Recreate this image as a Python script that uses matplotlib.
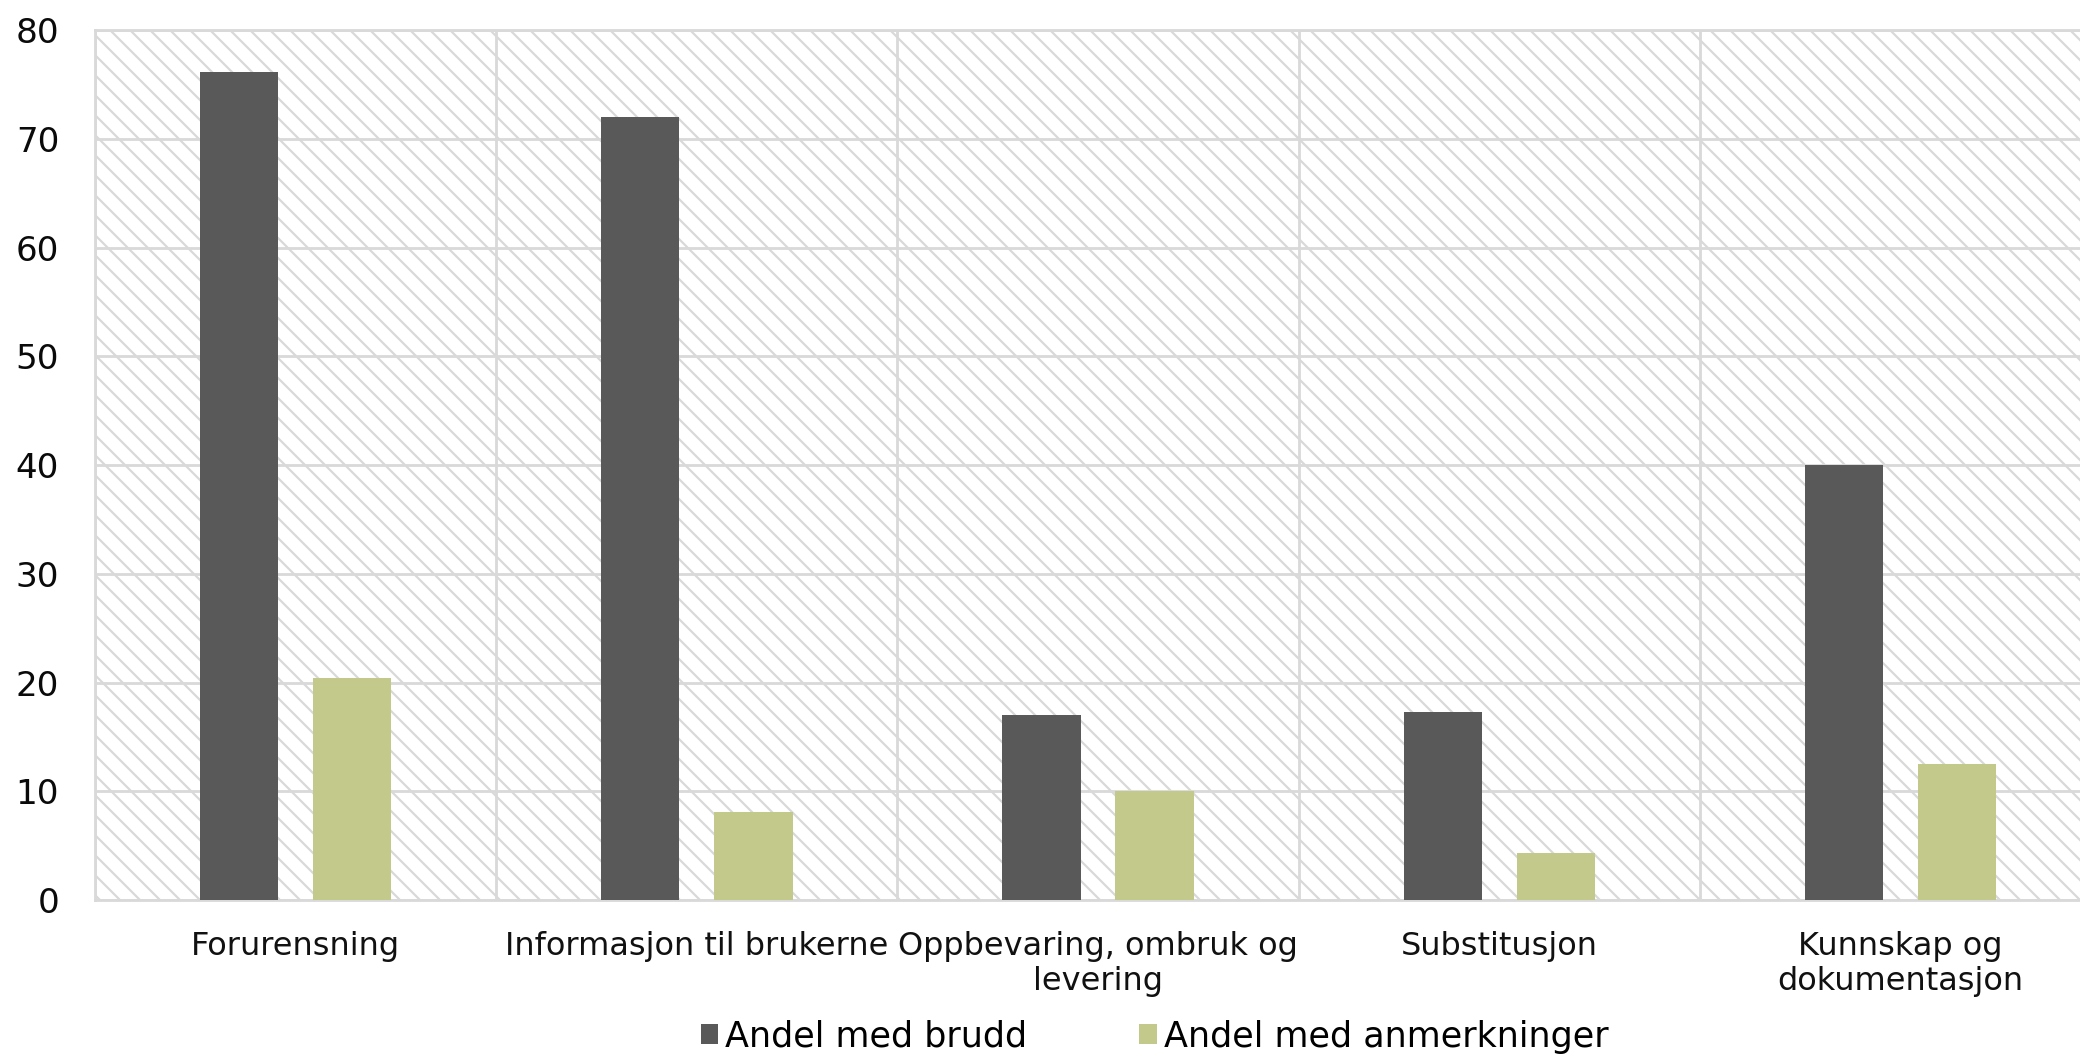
import numpy as np
import matplotlib.pyplot as plt
from matplotlib.patches import Rectangle

categories = ["Forurensning", "Informasjon til brukerne", "Oppbevaring, ombruk og\nlevering",
              "Substitusjon", "Kunnskap og\ndokumentasjon"]
brudd = [76.1, 72.0, 17.0, 17.3, 40.0]
anmerkninger = [20.4, 8.1, 10.0, 4.3, 12.5]
yticks = [0, 10, 20, 30, 40, 50, 60, 70, 80]

DPI = 120  # hatch spacing follows dpi, 120 gives ~10 px between lines
grid_color = "#d9d9d9"
plt.rcParams["hatch.color"] = "#d8d8d8"
plt.rcParams["hatch.linewidth"] = 1.3

fig = plt.figure(figsize=(2080 / DPI, 1058 / DPI), dpi=DPI)
# plot area runs a little past the right edge, as in the source
ax = fig.add_axes([0.0457, 0.1493, 0.9644, 0.8223])

# hatched background
ax.add_patch(Rectangle((0, 0), 1, 1, transform=ax.transAxes, facecolor="white",
                       edgecolor="#d8d8d8", hatch="\\\\", lw=0, zorder=0))

x = np.arange(len(categories))
w = 0.195
ax.bar(x - 0.141, brudd, w, color="#595959", zorder=3, label="Andel med brudd")
ax.bar(x + 0.141, anmerkninger, w, color="#c2c98a", zorder=3, label="Andel med anmerkninger")

ax.set_xlim(-0.5, len(categories) - 0.5)
ax.set_ylim(0, 80)
ax.set_yticks(yticks)
ax.set_xticks(x)
ax.set_xticklabels(categories, fontsize=19.2, color="#111111")
ax.set_xticks(np.arange(len(categories) + 1) - 0.5, minor=True)
ax.tick_params(axis="y", length=0, pad=21.5, labelsize=20.5, labelcolor="#0a0a0a")
ax.tick_params(axis="x", which="both", length=0, pad=18.3)

ax.grid(axis="y", color=grid_color, lw=1.7, zorder=1)
ax.grid(axis="x", which="minor", color=grid_color, lw=1.7, zorder=1)
ax.grid(axis="x", which="major", visible=False)
for s in ax.spines.values():
    s.set_color(grid_color)
    s.set_linewidth(1.7)

fig.legend(loc="center", bbox_to_anchor=(0.555, 0.02), ncol=2, frameon=False,
           fontsize=21, handlelength=0.5, handleheight=0.5, handletextpad=0.2,
           columnspacing=3.2)

plt.savefig("out.png", dpi=DPI)
